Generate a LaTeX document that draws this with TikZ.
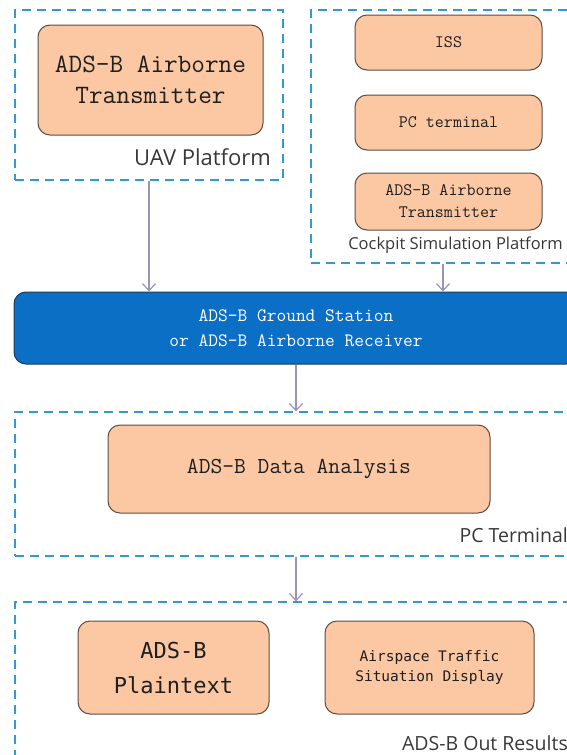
\documentclass[tikz,border=0pt]{standalone}
\usepackage{fontspec}
\usepackage{tikz}
\usetikzlibrary{arrows.meta}
\newfontfamily\codefont{Latin Modern Mono}
\newfontfamily\heifont{DejaVu Sans Mono}
\newfontfamily\platfont{Open Sans}
\definecolor{peach}{HTML}{FBC8A3}
\definecolor{peachline}{HTML}{5E4D42}
\definecolor{dashblue}{HTML}{2F9AD3}
\definecolor{stationblue}{HTML}{0B6FC6}
\definecolor{stationline}{HTML}{1E3A5F}
\definecolor{arrowgray}{HTML}{9C92B4}
\tikzstyle{platform} = [rectangle, 
draw=dashblue, 
line width=1.3pt, 
dash pattern=on 9pt off 6pt, 
inner sep=0pt]
\tikzstyle{block} = [rectangle, rounded corners=12pt, 
draw=peachline, 
line width=1pt, 
fill=peach, 
text=black!88, 
align=center, 
inner sep=0pt]
\tikzstyle{station} = [rectangle, rounded corners=12pt, 
draw=stationline, 
line width=1pt, 
fill=stationblue, 
text=white, 
align=center, 
inner sep=0pt]
\tikzstyle{platname} = [anchor=east, inner sep=0pt, text=black!78]
\tikzstyle{arrow} = [line width=1.2pt, draw=arrowgray, -{Straight Barb[length=7pt,width=13pt]}]

\begin{document}
\begin{tikzpicture}[x=1pt, y=-1pt]

\useasboundingbox (0,0) rectangle (567,755);
\clip (0,0) rectangle (567,755);

% UAV platform
\node (uavgrp) [platform, minimum width=268pt, minimum height=170pt] at (149,95) {};
\node (uavtx) [block, minimum width=225pt, minimum height=110pt, 
  font=\codefont\fontsize{26.5}{31}\selectfont] at (150.5,80) {ADS-B Airborne\\Transmitter};
\node (uavname) [platname, font=\platfont\fontsize{22}{26}\selectfont] at (271,157) {UAV Platform};

% cockpit simulation platform
\node (ckgrp) [platform, minimum width=264pt, minimum height=253pt] at (443,136.5) {};
\node (iss) [block, minimum width=187pt, minimum height=55pt, 
  font=\codefont\fontsize{17.5}{22}\selectfont] at (448.5,42.5) {ISS};
\node (pcterm) [block, minimum width=187pt, minimum height=55pt, 
  font=\codefont\fontsize{17.5}{22}\selectfont] at (448.5,122.5) {PC terminal};
\node (cktx) [block, minimum width=187pt, minimum height=57pt, 
  font=\codefont\fontsize{17.5}{22}\selectfont] at (448.5,201.5) {ADS-B Airborne\\Transmitter};
\node (ckname) [platname, font=\platfont\fontsize{16.5}{20}\selectfont] at (563,245) {Cockpit Simulation Platform};

% receiver
\node (gs) [station, minimum width=564pt, minimum height=72pt, 
  font=\codefont\fontsize{18.9}{25}\selectfont] at (296,328) {ADS-B Ground Station\\or ADS-B Airborne Receiver};

% PC terminal
\node (pcgrp) [platform, minimum width=562pt, minimum height=144pt] at (296,484) {};
\node (analysis) [block, minimum width=382pt, minimum height=88pt, 
  font=\codefont\fontsize{22.9}{26}\selectfont] at (299,469) {ADS-B Data Analysis};
\node (pcname) [platname, font=\platfont\fontsize{19.5}{23}\selectfont] at (568,535) {PC Terminal};

% results
\node (outgrp) [platform, minimum width=562pt, minimum height=168pt] at (296,686) {};
\node (plain) [block, minimum width=191pt, minimum height=93pt, 
  font=\heifont\fontsize{22}{35}\selectfont] at (173.5,667.5) {ADS-B\\Plaintext};
\node (airspace) [block, minimum width=209pt, minimum height=93pt, 
  font=\heifont\fontsize{14.5}{20}\selectfont] at (429.5,667.5) {Airspace Traffic\\Situation Display};
\node (outname) [platname, font=\platfont\fontsize{19.5}{24}\selectfont] at (568,743) {ADS-B Out Results};

\draw [arrow] (uavgrp.south) -- (uavgrp.south |- gs.north);
\draw [arrow] (ckgrp.south) -- (ckgrp.south |- gs.north);
\draw [arrow] (gs.south) -- (pcgrp.north);
\draw [arrow] (pcgrp.south) -- (outgrp.north);

\end{tikzpicture}
\end{document}
